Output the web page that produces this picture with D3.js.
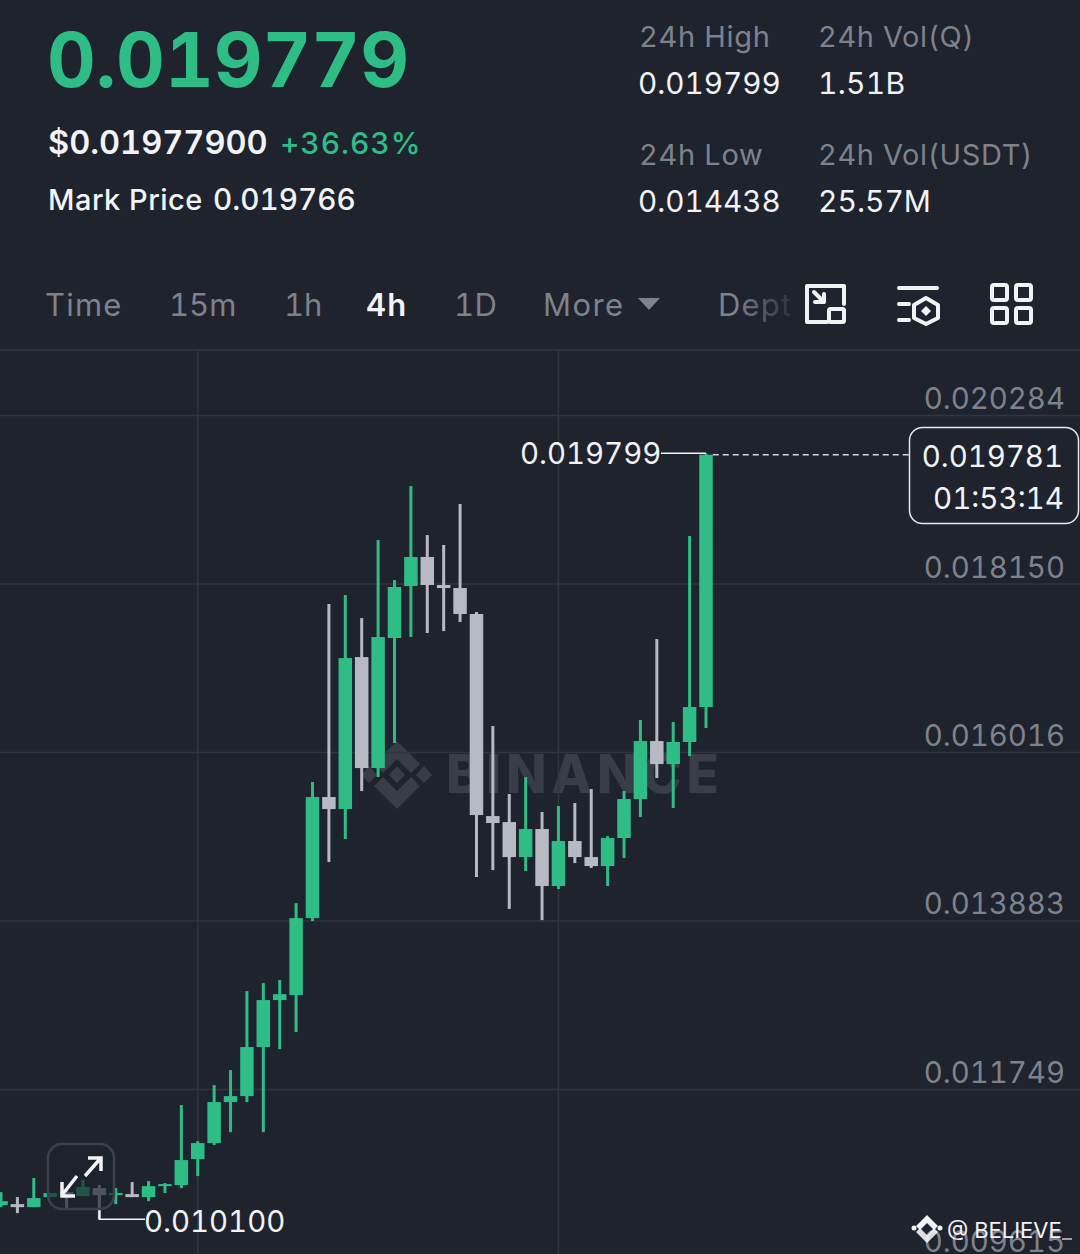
<!DOCTYPE html>
<html>
<head>
<meta charset="utf-8">
<script src="https://cdn.jsdelivr.net/npm/d3@7"></script>
<style>
  html, body { margin: 0; padding: 0; background: #1e232e; }
  svg { display: block; }
  text { font-family: Inter, "Noto Sans", sans-serif; font-variant-numeric: tabular-nums; font-feature-settings: "tnum" 1; }
</style>
</head>
<body>
<div id="chart"></div>
<script>
// candles, oldest first, 4h. values
const opens  = [0.010279,0.010291,0.010253,0.010380,0.010443,0.010393,0.010494,0.010405,0.010418,0.010380,0.010519,0.010532,0.010861,0.011064,0.011583,0.011659,0.012280,0.012875,0.012938,0.013913,0.015446,0.015294,0.017219,0.015813,0.017460,0.018118,0.018486,0.018131,0.018093,0.017764,0.015205,0.015129,0.014686,0.015041,0.014319,0.014889,0.014686,0.014572,0.014927,0.015421,0.016155,0.015864,0.016143,0.016586];
const highs  = [0.010443,0.010380,0.010621,0.010431,0.010469,0.010595,0.010532,0.010494,0.010570,0.010583,0.010557,0.011545,0.011089,0.011798,0.011988,0.012989,0.013090,0.013128,0.014103,0.015636,0.017890,0.018004,0.017713,0.018701,0.018194,0.019385,0.018764,0.018638,0.019157,0.017789,0.016345,0.015484,0.015699,0.015256,0.015332,0.015370,0.015547,0.014952,0.015522,0.016421,0.017447,0.016396,0.018752,0.019799];
const lows   = [0.010253,0.010177,0.010253,0.010380,0.010241,0.010393,0.010100,0.010291,0.010380,0.010329,0.010431,0.010494,0.010646,0.011039,0.011203,0.011583,0.011203,0.012254,0.012470,0.013875,0.014623,0.014914,0.015522,0.015699,0.016130,0.017472,0.017523,0.017548,0.017662,0.014433,0.014521,0.014028,0.014509,0.013888,0.014281,0.014610,0.014547,0.014319,0.014673,0.015193,0.015687,0.015307,0.015965,0.016320];
const closes = [0.010329,0.010253,0.010367,0.010431,0.010393,0.010507,0.010405,0.010431,0.010380,0.010519,0.010545,0.010849,0.011064,0.011583,0.011659,0.012280,0.012875,0.012951,0.013913,0.015446,0.015294,0.017206,0.015813,0.017472,0.018106,0.018486,0.018131,0.018093,0.017764,0.015218,0.015117,0.014686,0.015041,0.014319,0.014889,0.014686,0.014572,0.014927,0.015421,0.016155,0.015864,0.016143,0.016586,0.019781];

const priceTicks = [0.020284, 0.018150, 0.016016, 0.013883, 0.011749, 0.009615];
const timeGridIdx = [12, 34];
const tabs = ["Time", "15m", "1h", "4h", "1D", "More"];
const tabX = [45, 169, 284, 366, 454, 543];
const tabSpacing = [1.2, 0, 0, 1.2, 0.4, 1.4];

const width = 1080, height = 1254;
const bg = "#1e232e", green = "#2ebd85", gray = "#b7b9c3", muted = "#7d828c", grid = "#30353f", white = "#f2f3f5";

const svg = d3.select("#chart").append("svg")
  .attr("width", width)
  .attr("height", height);

const defs = svg.append("defs");
const fade = defs.append("linearGradient").attr("id", "deptFade")
  .attr("gradientUnits", "userSpaceOnUse")
  .attr("x1", 735).attr("x2", 795).attr("y1", 0).attr("y2", 0);
fade.append("stop").attr("offset", 0).attr("stop-color", muted);
fade.append("stop").attr("offset", 1).attr("stop-color", muted).attr("stop-opacity", 0.1);

svg.append("rect").attr("width", width).attr("height", height).attr("fill", bg);

// scales: two known gridlines pin the price axis
const y = d3.scaleLinear().domain([0.020284, 0.011749]).range([415, 1089]);
const x = d3.scalePoint().domain(d3.range(opens.length)).range([1, 706]);

// header text
function label(t, px, py, size, color, weight, spacing) {
  return svg.append("text").attr("x", px).attr("y", py)
    .attr("font-size", size).attr("fill", color)
    .attr("font-weight", weight || 400)
    .attr("letter-spacing", spacing || 0).text(t);
}

label("0.019779", 47, 87, 75.5, green, 700);
label("$0.01977900", 48, 154, 32.6, white, 600);
label("+36.63%", 280, 154, 30, green, 500, 0.9);
label("Mark Price", 48, 210, 29, white, 500, 0.5);
label("0.019766", 213, 210, 29.7, white, 500);

label("24h High", 639, 47, 29, muted, 400, 0.7);
label("0.019799", 638, 94, 29.7, white);
label("24h Vol(Q)", 818, 47, 29, muted, 400, 0.6);
label("1.51B", 818, 94, 30, white, 400, 0.3);
label("24h Low", 639, 165, 29, muted, 400, 0.7);
label("0.014438", 638, 212, 29.7, white);
label("24h Vol(USDT)", 818, 165, 29, muted, 400, 0.6);
label("25.57M", 818, 212, 30);
svg.select("text:last-of-type").attr("fill", white);

// tabs
tabs.forEach((t, i) => {
  const on = t === "4h";
  label(t, tabX[i], 316, 31, on ? white : muted, on ? 600 : 400, tabSpacing[i]);
});
svg.append("path").attr("d", "M638 298 H660 L649 310 Z").attr("fill", muted);
label("Dept", 718, 316, 31, "url(#deptFade)", 400, 1.2);

// toolbar icons
const icons = svg.append("g").attr("fill", "none").attr("stroke", white)
  .attr("stroke-width", 4).attr("stroke-linejoin", "round").attr("stroke-linecap", "round");
icons.append("path").attr("d", "M827 286 H844 V304 M827 322 H807 V286 H827");
icons.append("rect").attr("x", 829).attr("y", 309).attr("width", 15).attr("height", 13).attr("rx", 1.5);
icons.append("path").attr("d", "M814 292 L824 302 M815 302 H824 V294");
icons.append("path").attr("d", "M899 288 H937 M899 304 H909 M899 320 H909");
icons.append("path").attr("d", "M926 298 L938 305 V318 L926 324 L914 318 V305 Z");
icons.append("path").attr("d", "M926 306 L931 311 L926 316 L921 311 Z").attr("fill", white).attr("stroke", "none");
[[992, 285], [1016, 285], [992, 308], [1016, 308]].forEach(p => {
  icons.append("rect").attr("x", p[0]).attr("y", p[1]).attr("width", 15).attr("height", 15).attr("rx", 2);
});

svg.append("line").attr("x1", 0).attr("x2", width).attr("y1", 350).attr("y2", 350)
  .attr("stroke", "#2b303a").attr("stroke-width", 2);

// watermark sits under the candles
const wm = svg.append("g").attr("fill", "#383d48");
wm.append("path").attr("d", "M397 741 L420 764 L411 773 L397 759 L383 773 L374 764 Z");
wm.append("path").attr("d", "M397 809 L420 786 L411 777 L397 791 L383 777 L374 786 Z");
wm.append("path").attr("d", "M397 766 L405 775 L397 783 L389 775 Z");
wm.append("path").attr("d", "M424 766 L432 775 L424 783 L416 775 Z");
wm.append("path").attr("d", "M369 766 L377 775 L369 783 L361 775 Z");
wm.append("text").attr("x", 446).attr("y", 793).attr("font-size", 53).attr("font-weight", 800)
  .attr("letter-spacing", 4.8).text("BINANCE");

// price gridlines and labels
const yAxis = d3.axisRight(y).tickValues(priceTicks).tickSizeInner(-width).tickSizeOuter(0)
  .tickFormat(d3.format(".6f"));
const yG = svg.append("g").attr("transform", `translate(${width},0)`).call(yAxis);
yG.select(".domain").remove();
yG.selectAll("line").attr("stroke", grid).attr("stroke-width", 1.5);
yG.selectAll("text")
  .attr("x", -15).attr("dy", 0).attr("y", -6.5)
  .attr("text-anchor", "end")
  .attr("fill", muted)
  .attr("font-size", 29.4)
  .style("font-family", "Inter, sans-serif");

// two vertical gridlines
svg.append("g").selectAll("line").data(timeGridIdx).enter().append("line")
  .attr("x1", d => x(d)).attr("x2", d => x(d))
  .attr("y1", 351).attr("y2", height)
  .attr("stroke", grid).attr("stroke-width", 1.5);

// candles
const candles = svg.append("g").selectAll("g").data(d3.range(opens.length)).enter().append("g")
  .attr("fill", i => closes[i] >= opens[i] ? green : gray);
const bodyW = 13.5, wickW = 3;
candles.append("rect")
  .attr("x", i => x(i) - wickW / 2)
  .attr("width", wickW)
  .attr("y", i => y(highs[i]))
  .attr("height", i => y(lows[i]) - y(highs[i]));
candles.append("rect")
  .attr("x", i => x(i) - bodyW / 2)
  .attr("width", bodyW)
  .attr("y", i => y(Math.max(opens[i], closes[i])))
  .attr("height", i => Math.max(2, Math.abs(y(opens[i]) - y(closes[i]))));

// high / low markers
const hiIdx = highs.indexOf(d3.max(highs)), loIdx = lows.indexOf(d3.min(lows));
svg.append("path")
  .attr("d", `M661 ${y(highs[hiIdx])} H${x(hiIdx)}`)
  .attr("stroke", white).attr("stroke-width", 1.5).attr("fill", "none");
label(d3.format(".6f")(highs[hiIdx]), 520, y(highs[hiIdx]) + 11, 29.4, white);
svg.append("path")
  .attr("d", `M${x(loIdx)} ${y(lows[loIdx]) - 10} V${y(lows[loIdx])} H145`)
  .attr("stroke", white).attr("stroke-width", 1.5).attr("fill", "none");
label(d3.format(".6f")(lows[loIdx]), 144, y(lows[loIdx]) + 13, 29.4, white);

// zoom button over the chart
svg.append("rect").attr("x", 48).attr("y", 1144).attr("width", 66).attr("height", 65).attr("rx", 14)
  .attr("fill", bg).attr("fill-opacity", 0.68).attr("stroke", "#3b404a").attr("stroke-width", 2.5);
svg.append("path").attr("d", "M85 1176 L100 1159 M88 1158 H101 V1171 M77 1176 L62 1195 M62 1182 V1196 H75")
  .attr("fill", "none").attr("stroke", white).attr("stroke-width", 3.5);

// current price line and box
const last = closes[closes.length - 1];
svg.append("line").attr("x1", x(43) + bodyW / 2).attr("x2", 909)
  .attr("y1", y(last)).attr("y2", y(last))
  .attr("stroke", "#d5d7db").attr("stroke-width", 1.5).attr("stroke-dasharray", "6 4");
svg.append("rect").attr("x", 909.5).attr("y", 427.5).attr("width", 169).attr("height", 96).attr("rx", 13)
  .attr("fill", bg).attr("stroke", "#e6e7ea").attr("stroke-width", 1.5);
label(d3.format(".6f")(last), 1063, 467, 29.4, white).attr("text-anchor", "end");
label("01:53:14", 1064, 509, 29.6, white).attr("text-anchor", "end");

// repost tag, bottom right
const tag = svg.append("g").attr("fill", white);
tag.append("path").attr("d", "M927 1215 L938 1226 L934 1230 L927 1223 L920 1230 L916 1226 Z");
tag.append("path").attr("d", "M927 1243 L938 1232 L934 1228 L927 1235 L920 1228 L916 1232 Z").attr("opacity", 0.9);
tag.append("circle").attr("cx", 914).attr("cy", 1228).attr("r", 2.5);
tag.append("circle").attr("cx", 940).attr("cy", 1228).attr("r", 2.5);
label("@ BELIEVE", 947, 1238, 22, white);
svg.append("line").attr("x1", 1062).attr("x2", 1072).attr("y1", 1239).attr("y2", 1239)
  .attr("stroke", "#c9ccd1").attr("stroke-width", 1.5);
</script>
</body>
</html>
